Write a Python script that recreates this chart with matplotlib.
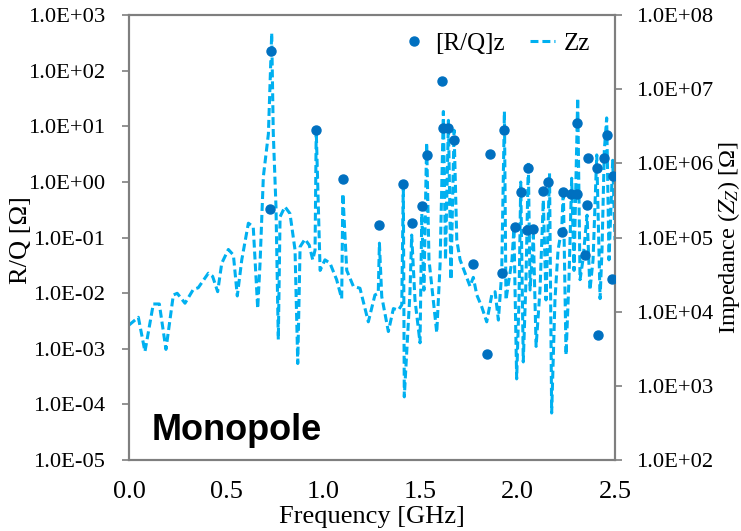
import matplotlib
matplotlib.use("Agg")
import matplotlib.pyplot as plt
from matplotlib.ticker import FixedLocator, FuncFormatter, NullLocator
from matplotlib.lines import Line2D

plt.rcParams["mathtext.fontset"] = "stix"

# ---- data ----
rq_freq = [0.730, 0.725, 0.962, 1.101, 1.286, 1.409, 1.454, 1.506, 1.531, 1.608,
           1.614, 1.643, 1.672, 1.771, 1.840, 1.857, 1.917, 1.931, 1.986, 2.015,
           2.046, 2.054, 2.080, 2.131, 2.157, 2.226, 2.234, 2.272, 2.306, 2.303,
           2.363, 2.354, 2.346, 2.406, 2.445, 2.457, 2.488, 2.414, 2.486]
rq_vals = [225, 0.32, 8.5, 1.12, 0.167, 0.91, 0.18, 0.37, 3.1, 66,
           9.5, 9.2, 5.6, 0.033, 0.0008, 3.16, 0.023, 8.5, 0.156, 0.66,
           0.136, 1.75, 0.14, 0.70, 1.0, 0.127, 0.65, 0.60, 0.60, 11.3,
           2.7, 0.38, 0.048, 1.75, 2.7, 7.0, 1.29, 0.0018, 0.018]

zz_freq = [0.000, 0.048, 0.082, 0.125, 0.156, 0.190, 0.228, 0.248, 0.288, 0.331,
           0.356, 0.408, 0.430, 0.456, 0.477, 0.511, 0.537, 0.557, 0.580, 0.614,
           0.639, 0.662, 0.674, 0.691, 0.717, 0.734, 0.742, 0.756, 0.768, 0.777,
           0.802, 0.828, 0.854, 0.868, 0.880, 0.905, 0.927, 0.945, 0.957, 0.963,
           0.983, 1.008, 1.034, 1.068, 1.094, 1.100, 1.120, 1.154, 1.188, 1.231,
           1.265, 1.282, 1.288, 1.300, 1.334, 1.360, 1.385, 1.403, 1.411, 1.416,
           1.445, 1.454, 1.471, 1.497, 1.506, 1.517, 1.531, 1.543, 1.583, 1.600,
           1.617, 1.628, 1.643, 1.656, 1.672, 1.686, 1.703, 1.754, 1.771, 1.789,
           1.814, 1.840, 1.866, 1.883, 1.900, 1.917, 1.931, 1.939, 1.970, 1.980,
           1.994, 2.006, 2.015, 2.028, 2.042, 2.054, 2.063, 2.080, 2.094, 2.114,
           2.131, 2.145, 2.163, 2.174, 2.191, 2.207, 2.226, 2.234, 2.248, 2.263,
           2.277, 2.289, 2.308, 2.320, 2.335, 2.356, 2.371, 2.387, 2.406, 2.423,
           2.433, 2.445, 2.457, 2.469, 2.488, 2.500]
zz_vals = [6.6e3, 8.4e3, 2.9e3, 1.27e4, 1.27e4, 3.1e3, 1.68e4, 1.77e4, 1.3e4, 2.0e4,
           2.1e4, 3.3e4, 3.0e4, 1.86e4, 4.5e4, 6.9e4, 5.8e4, 1.63e4, 5.0e4, 1.56e5,
           1.4e5, 1.1e4, 4.5e4, 6.6e5, 2.5e6, 5.7e7, 2.6e6, 2.6e5, 4.2e3, 1.9e5,
           2.6e5, 2.1e5, 6.8e4, 2.0e3, 7.5e4, 9.5e4, 7.9e4, 5.0e4, 6.8e4, 2.8e6,
           3.6e4, 5.0e4, 4.5e4, 2.7e4, 1.5e4, 3.9e5, 3.6e4, 2.2e4, 2.07e4, 7.3e3,
           1.68e4, 1.77e4, 8.4e4, 1.6e4, 5.4e3, 1.1e4, 1.05e4, 1.23e4, 5.3e5, 7.1e2,
           1.77e4, 1.08e5, 1.44e4, 3.8e3, 2.1e5, 1.95e4, 1.9e6, 5.0e4, 5.2e3, 4.3e4,
           5.0e6, 5.0e4, 3.8e6, 2.7e4, 2.8e6, 9.2e4, 5.0e4, 2.2e4, 2.9e4, 1.68e4,
           1.17e4, 7.3e3, 1.68e4, 1.86e4, 7.7e3, 3.3e4, 5.0e6, 1.44e4, 5.0e4, 1.34e5,
           1.24e3, 1.44e4, 5.6e5, 2.1e3, 2.7e4, 1.04e6, 1.96e4, 1.08e5, 3.4e3, 1.96e4,
           3.2e5, 1.44e4, 7.4e5, 4.3e2, 1.44e4, 6.8e4, 1.34e5, 4.4e5, 2.6e3, 2.7e4,
           6.3e5, 3.6e4, 7.6e6, 2.7e4, 5.0e4, 2.0e5, 1.96e4, 5.0e4, 1.3e6, 1.5e4,
           6.8e4, 1.5e6, 4.1e6, 5.0e4, 1.1e6, 9.2e4]

x_ticks = [0.0, 0.5, 1.0, 1.5, 2.0, 2.5]
left_ticks = [1e-5, 1e-4, 1e-3, 1e-2, 1e-1, 1e0, 1e1, 1e2, 1e3]
right_ticks = [1e2, 1e3, 1e4, 1e5, 1e6, 1e7, 1e8]

# ---- style ----
SERIF = ["Liberation Serif", "DejaVu Serif"]
MARK_C = "#0070C0"
LINE_C = "#00B0F0"
SPINE_C = "#7F7F7F"
DASH = (0, (2.6, 1.3))

fig = plt.figure(figsize=(7.41, 5.31), dpi=100)
ax = fig.add_axes([0.1741, 0.1337, 0.6559, 0.8380])
ax2 = ax.twinx()

ax2.plot(zz_freq, zz_vals, color=LINE_C, lw=2.2, linestyle=DASH, zorder=2)
ax.plot(rq_freq, rq_vals, linestyle="none", marker="o", ms=6.5, color=MARK_C, zorder=3)

ax.set_zorder(ax2.get_zorder() + 1)
ax.patch.set_visible(False)

ax.set_xlim(0, 2.5)
ax.set_yscale("log")
ax.set_ylim(1e-5, 1e3)
ax2.set_yscale("log")
ax2.set_ylim(1e2, 1e8)

fmt = FuncFormatter(lambda v, p: f"{v:.1E}")
ax.yaxis.set_major_locator(FixedLocator(left_ticks))
ax.yaxis.set_minor_locator(NullLocator())
ax.yaxis.set_major_formatter(fmt)
ax2.yaxis.set_major_locator(FixedLocator(right_ticks))
ax2.yaxis.set_minor_locator(NullLocator())
ax2.yaxis.set_major_formatter(fmt)
ax.set_xticks(x_ticks)
ax.set_xticklabels([f"{t:.1f}" for t in x_ticks])

for a in (ax, ax2):
    for s in a.spines.values():
        s.set_color(SPINE_C)
        s.set_linewidth(1.5)
ax.tick_params(axis="y", direction="out", length=5, width=1.2, color=SPINE_C,
               labelsize=16.2, pad=12)
ax2.tick_params(axis="y", direction="out", length=5, width=1.2, color=SPINE_C,
                labelsize=16.2, pad=10)
ax.tick_params(axis="x", length=0, labelsize=19, pad=15)
for lab in ax.get_yticklabels() + ax2.get_yticklabels() + ax.get_xticklabels():
    lab.set_fontfamily(SERIF)

ax.set_xlabel("Frequency [GHz]", fontsize=19, family=SERIF, labelpad=2)
ax.set_ylabel("R/Q [Ω]", fontsize=19, family=SERIF)
ax2.set_ylabel(r"Impedance ($Z_Z$) [Ω]", fontsize=17.5, family=SERIF)
ax.yaxis.set_label_coords(-0.199, 0.494)
ax2.yaxis.set_label_coords(1.207, 0.499)

ax.text(0.047, 0.045, "Monopole", transform=ax.transAxes, fontsize=26,
        fontweight="bold", family=["Liberation Sans", "DejaVu Sans"],
        ha="left", va="baseline")

handles = [Line2D([], [], linestyle="none", marker="o", ms=6.5, color=MARK_C),
           Line2D([], [], color=LINE_C, lw=2.2, linestyle=DASH)]
ax.legend(handles, ["[R/Q]z", "Zz"], loc="upper right", ncol=2, frameon=False,
          prop={"family": SERIF, "size": 18}, handlelength=1.0, handletextpad=0.35,
          columnspacing=1.0, bbox_to_anchor=(0.98, 0.995), borderaxespad=0.2)

fig.savefig("out.png", dpi=100)
